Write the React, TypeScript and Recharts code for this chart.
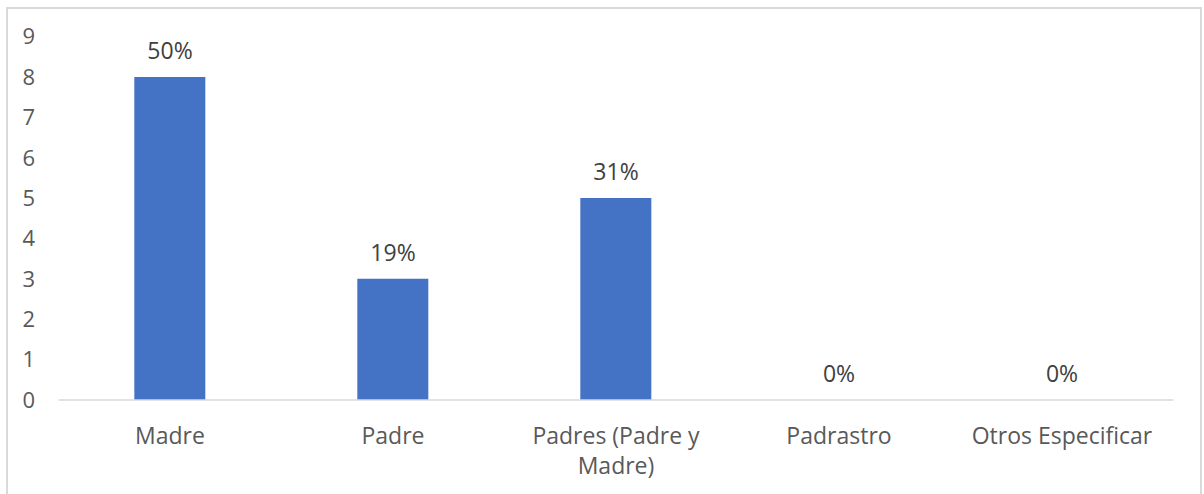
import React from "react";
import { ComposedChart, Bar, Line, XAxis, YAxis, LabelList } from "recharts";

const categories = ["Madre", "Padre", "Padres (Padre y Madre)", "Padrastro", "Otros Especificar"];
const counts = [8, 3, 5, 0, 0];
const percentLabels = ["50%", "19%", "31%", "0%", "0%"];
const yTicks = [0, 1, 2, 3, 4, 5, 6, 7, 8, 9];
const categoryLines: string[][] = [["Madre"], ["Padre"], ["Padres (Padre y", "Madre)"], ["Padrastro"], ["Otros Especificar"]];

const data = categories.map((c, i) => ({ name: c, value: counts[i], pct: percentLabels[i] }));

const FONT = "'Open Sans', 'Noto Sans', sans-serif";
const TEXT = "#595959";
const FS = 23;

const XTick = (props: any) => {
  const { x, y, index } = props;
  const lines = categoryLines[index] || [];
  return (
    <text x={x} y={y} textAnchor="middle" fill={TEXT} fontFamily={FONT} fontSize={FS}>
      {lines.map((l, i) => (
        <tspan key={i} x={x} dy={i === 0 ? 36 : 30}>{l}</tspan>
      ))}
    </text>
  );
};

const PctLabel = (props: any) => {
  const { x, y, index } = props;
  return (
    <text x={x} y={y - 18} textAnchor="middle" fill="#404040" fontFamily={FONT} fontSize={FS}>
      {percentLabels[index]}
    </text>
  );
};

export default function App() {
  return (
    <div style={{ position: "absolute", left: 0, top: 0, width: 1204, height: 494, background: "#fff", overflow: "hidden" }}>
      <div style={{ position: "absolute", left: 6, top: 7, width: 1196, height: 520, border: "2px solid #d9d9d9", boxSizing: "border-box" }} />
      <div style={{ position: "absolute", left: 0, top: 0 }}>
        <ComposedChart
          width={1204}
          height={494}
          data={data}
          margin={{ top: 36.6, right: 30.5, left: 0, bottom: 0 }}
          barCategoryGap="34%"
        >
          <XAxis
            dataKey="name"
            axisLine={{ stroke: "#d9d9d9", strokeWidth: 1.5 }}
            tickLine={false}
            tick={<XTick />}
            interval={0}
            height={94}
          />
          <YAxis
            domain={[0, 9]}
            ticks={yTicks}
            interval={0}
            axisLine={false}
            tickLine={false}
            tickSize={0}
            tickMargin={23.5}
            width={58.5}
            tick={{ fill: TEXT, fontFamily: FONT, fontSize: 22 }}
          />
          <Bar dataKey="value" fill="#4472C4" isAnimationActive={false} />
          <Line dataKey="value" stroke="none" dot={false} activeDot={false} isAnimationActive={false}>
            <LabelList dataKey="pct" content={<PctLabel />} />
          </Line>
        </ComposedChart>
      </div>
    </div>
  );
}
